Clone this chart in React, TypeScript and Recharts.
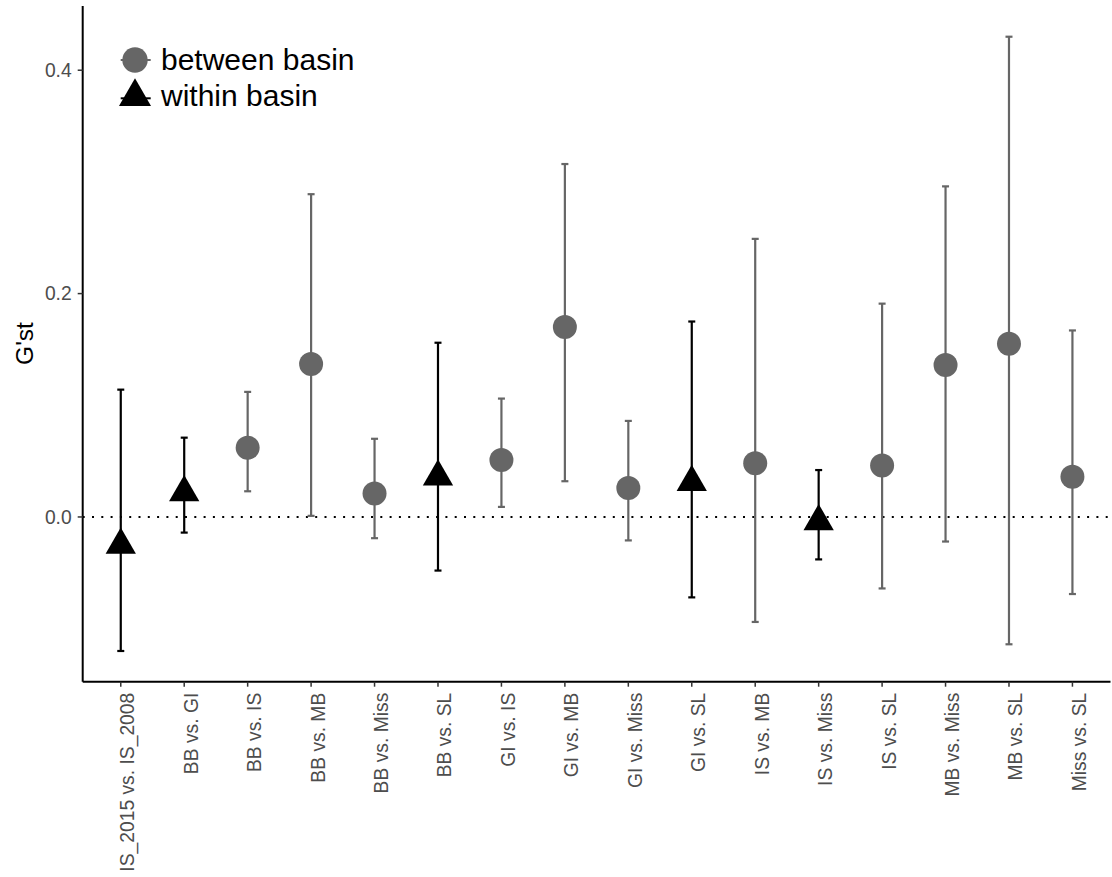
import React from 'react'
import {
  ComposedChart,
  Scatter,
  ErrorBar,
  XAxis,
  YAxis,
  ReferenceLine,
  Legend,
} from 'recharts'

const PAIRS = [
  'IS_2015 vs. IS_2008',
  'BB vs. GI',
  'BB vs. IS',
  'BB vs. MB',
  'BB vs. Miss',
  'BB vs. SL',
  'GI vs. IS',
  'GI vs. MB',
  'GI vs. Miss',
  'GI vs. SL',
  'IS vs. MB',
  'IS vs. Miss',
  'IS vs. SL',
  'MB vs. Miss',
  'MB vs. SL',
  'Miss vs. SL',
]
const GROUP = [
  'within', 'within', 'between', 'between', 'between', 'within', 'between', 'between',
  'between', 'within', 'between', 'within', 'between', 'between', 'between', 'between',
]
const GST = [-0.025, 0.022, 0.062, 0.137, 0.021, 0.036, 0.051, 0.170, 0.026, 0.031, 0.048, -0.004, 0.046, 0.136, 0.155, 0.036]
const LOWER = [-0.120, -0.014, 0.023, 0.001, -0.019, -0.048, 0.009, 0.032, -0.021, -0.072, -0.094, -0.038, -0.064, -0.022, -0.114, -0.069]
const UPPER = [0.114, 0.071, 0.112, 0.289, 0.070, 0.156, 0.106, 0.316, 0.086, 0.175, 0.249, 0.042, 0.191, 0.296, 0.430, 0.167]
const Y_TICKS = [0, 0.2, 0.4]
const X_TICKS = PAIRS.map((_, i) => i)

const GREY = '#666666'
const FONT = '"Liberation Sans", Arial, Helvetica, sans-serif'

const rows = PAIRS.map((name, i) => ({
  x: i,
  name,
  y: GST[i],
  err: [GST[i] - LOWER[i], UPPER[i] - GST[i]],
  group: GROUP[i],
}))
const between = rows.filter((r) => r.group === 'between')
const within = rows.filter((r) => r.group === 'within')

// ggplot-style filled triangle: apex r above the point, base r/2 below
function tri(cx: number, cy: number, r: number, fill: string) {
  return (
    <polygon
      points={`${cx},${cy - r} ${cx + r * 0.866},${cy + r / 2} ${cx - r * 0.866},${cy + r / 2}`}
      fill={fill}
    />
  )
}

const CircleDot = (props: any) => <circle cx={props.cx} cy={props.cy} r={12} fill={GREY} />
const TriangleDot = (props: any) => tri(props.cx, props.cy, 17.5, '#000')

const XTick = (props: any) => {
  const { x, y, payload } = props
  return (
    <text
      x={0}
      y={13.5}
      transform={`translate(${x},${y}) rotate(-90)`}
      textAnchor="end"
      fill="#4d4d4d"
      fontSize={19.3}
      fontFamily={FONT}
    >
      {PAIRS[payload.value]}
    </text>
  )
}

const LegendBox = () => (
  <svg width={280} height={80} style={{ display: 'block' }}>
    <line x1={5.7} x2={35.7} y1={22} y2={22} stroke={GREY} strokeWidth={2} />
    <circle cx={20} cy={22} r={12.7} fill={GREY} />
    <text x={46} y={32} fontSize={30} fontFamily={FONT} fill="#000">between basin</text>
    <line x1={5.7} x2={35.7} y1={60.3} y2={60.3} stroke="#000" strokeWidth={2} />
    {tri(20, 58.8, 18.5, '#000')}
    <text x={46} y={68} fontSize={30} fontFamily={FONT} fill="#000">within basin</text>
  </svg>
)

export default function App() {
  return (
    <div style={{ position: 'absolute', left: 0, top: 0, width: 1112, height: 877, background: '#fff' }}>
      <ComposedChart
        width={1112}
        height={877}
        margin={{ top: 6, right: 1.5, bottom: 0, left: 0 }}
        style={{ fontFamily: FONT }}
      >
        <XAxis
          type="number"
          dataKey="x"
          domain={[-0.6, 15.6]}
          ticks={X_TICKS}
          interval={0}
          allowDataOverflow
          height={195.3}
          axisLine={{ stroke: '#000', strokeWidth: 2 }}
          tickLine={{ stroke: '#333', strokeWidth: 1.5 }}
          tickSize={5}
          tickMargin={6}
          tick={<XTick />}
        />
        <YAxis
          type="number"
          dataKey="y"
          domain={[-0.1475, 0.4575]}
          ticks={Y_TICKS}
          allowDataOverflow
          width={82.7}
          axisLine={{ stroke: '#000', strokeWidth: 2 }}
          tickLine={{ stroke: '#333', strokeWidth: 1.5 }}
          tickSize={5}
          tickMargin={6}
          tickFormatter={(v: number) => v.toFixed(1)}
          tick={{ fill: '#4d4d4d', fontSize: 19.3, fontFamily: FONT }}
          label={{
            content: () => (
              <text
                transform="translate(33,343.5) rotate(-90)"
                textAnchor="middle"
                fontSize={24.5}
                fontFamily={FONT}
                fill="#000"
              >
                G'st
              </text>
            ),
          }}
        />
        <ReferenceLine y={0} stroke="#000" strokeWidth={2} strokeDasharray="2 7.3" />
        <Scatter data={between} name="between basin" fill={GREY} shape={CircleDot} isAnimationActive={false}>
          <ErrorBar dataKey="err" direction="y" width={3.5} stroke={GREY} strokeWidth={2.2} isAnimationActive={false} />
        </Scatter>
        <Scatter data={within} name="within basin" fill="#000" shape={TriangleDot} isAnimationActive={false}>
          <ErrorBar dataKey="err" direction="y" width={3.5} stroke="#000" strokeWidth={2.2} isAnimationActive={false} />
        </Scatter>
        <Legend
          layout="vertical"
          align="center"
          verticalAlign="middle"
          content={<LegendBox />}
          wrapperStyle={{ left: 115, top: 38, width: 280, height: 80 }}
        />
      </ComposedChart>
    </div>
  )
}
